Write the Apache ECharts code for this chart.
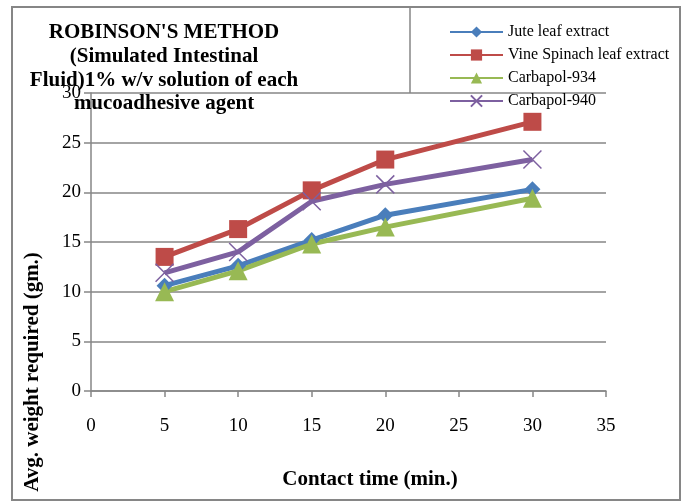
<!DOCTYPE html>
<html>
<head>
<meta charset="utf-8">
<script src="https://cdn.jsdelivr.net/npm/echarts@6/dist/echarts.min.js"></script>
<style>html,body{margin:0;padding:0;background:#fff;}#c{width:685px;height:504px;}</style>
</head>
<body>
<div id="c"></div>
<script>
var contactTime = [5, 10, 15, 20, 30];
var juteLeaf = [10.6, 12.6, 15.2, 17.7, 20.3];
var vineSpinach = [13.5, 16.3, 20.2, 23.3, 27.1];
var carbapol934 = [10.0, 12.1, 14.8, 16.5, 19.4];
var carbapol940 = [11.9, 14.0, 19.1, 20.8, 23.3];
var seriesNames = ['Jute leaf extract', 'Vine Spinach leaf extract', 'Carbapol-934', 'Carbapol-940'];
var titleText = "ROBINSON'S METHOD\n(Simulated Intestinal\nFluid)1% w/v solution of each\nmucoadhesive agent";
var xAxisTitle = 'Contact time (min.)';
var yAxisTitle = 'Avg. weight required (gm.)';

function pairs(ys) { return contactTime.map(function (x, i) { return [x, ys[i]]; }); }

var serif = '"Liberation Serif", "Times New Roman", serif';
var gray = '#868686';
var chart = echarts.init(document.getElementById('c'), null, {renderer: 'canvas'});
chart.setOption({
  animation: false,
  backgroundColor: '#fff',
  title: {
    text: titleText,
    left: 164,
    top: 21,
    padding: 0,
    textAlign: 'center',
    textStyle: {fontFamily: serif, fontWeight: 'bold', fontSize: 21, lineHeight: 23.7, color: '#000'}
  },
  legend: {
    orient: 'vertical',
    left: 449,
    top: 24,
    padding: 0,
    itemWidth: 53,
    itemHeight: 14,
    itemGap: 7,
    textStyle: {fontFamily: serif, fontSize: 16, color: '#000', padding: [0, 0, 0, 0]},
    data: seriesNames
  },
  grid: {left: 91, right: 79, top: 93, bottom: 113},
  xAxis: {
    type: 'value', min: 0, max: 35, interval: 5,
    axisLine: {lineStyle: {color: gray, width: 1.5}},
    axisTick: {show: true, length: 6, lineStyle: {color: gray, width: 1.5}},
    axisLabel: {fontFamily: serif, fontSize: 19, color: '#000', margin: 26},
    splitLine: {show: false}
  },
  yAxis: {
    type: 'value', min: 0, max: 30, interval: 5,
    axisLine: {show: true, lineStyle: {color: gray, width: 1.5}},
    axisTick: {show: true, length: 7, lineStyle: {color: gray, width: 1.5}},
    axisLabel: {fontFamily: serif, fontSize: 19, color: '#000', margin: 10},
    splitLine: {show: true, lineStyle: {color: gray, width: 1.5}}
  },
  graphic: [
    {type: 'rect', shape: {x: 12, y: 7, width: 668, height: 493}, style: {fill: 'none', stroke: gray, lineWidth: 2}, silent: true, z: -1},
    {type: 'line', shape: {x1: 410, y1: 7, x2: 410, y2: 93}, style: {stroke: gray, lineWidth: 1.5}, silent: true},
    {type: 'text', x: 370, y: 480, style: {text: xAxisTitle, font: 'bold 21px ' + serif, fill: '#000', textAlign: 'center', textVerticalAlign: 'middle'}},
    {type: 'text', x: 33, y: 372, rotation: Math.PI / 2, style: {text: yAxisTitle, font: 'bold 21px ' + serif, fill: '#000', textAlign: 'center', textVerticalAlign: 'middle'}}
  ],
  series: [
    {name: seriesNames[0], type: 'line', data: pairs(juteLeaf), symbol: 'diamond', symbolSize: 16,
     lineStyle: {color: '#4A7EBB', width: 5}, itemStyle: {color: '#4A7EBB'}},
    {name: seriesNames[1], type: 'line', data: pairs(vineSpinach), symbol: 'rect', symbolSize: 18,
     lineStyle: {color: '#BE4B48', width: 5}, itemStyle: {color: '#BE4B48'}},
    {name: seriesNames[2], type: 'line', data: pairs(carbapol934), symbol: 'triangle', symbolSize: 19,
     lineStyle: {color: '#98B954', width: 5}, itemStyle: {color: '#98B954'}},
    {name: seriesNames[3], type: 'line', data: pairs(carbapol940), symbol: 'path://M0,0L10,10M10,0L0,10', symbolSize: 18,
     lineStyle: {color: '#7D60A0', width: 5}, itemStyle: {color: '#7D60A0', borderColor: '#7D60A0', borderWidth: 1.5}}
  ]
});
</script>
</body>
</html>
